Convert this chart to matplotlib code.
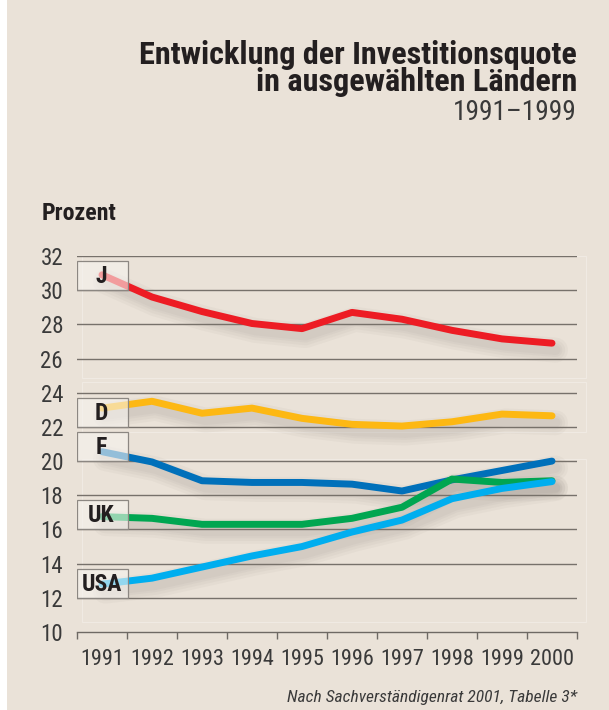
import matplotlib
matplotlib.use("Agg")
import matplotlib.pyplot as plt
import matplotlib.patheffects as pe
from matplotlib import font_manager as fm
from matplotlib.patches import Rectangle

# data (Investitionsquote in Prozent)
years = ["1991", "1992", "1993", "1994", "1995", "1996", "1997", "1998", "1999", "2000"]
japan = [30.9, 29.6, 28.75, 28.05, 27.75, 28.7, 28.3, 27.65, 27.15, 26.9]
germany = [23.1, 23.5, 22.8, 23.1, 22.5, 22.15, 22.05, 22.3, 22.75, 22.65]
france = [20.55, 19.95, 18.85, 18.75, 18.75, 18.65, 18.25, 18.9, 19.45, 20.0]
uk = [16.75, 16.65, 16.3, 16.3, 16.3, 16.65, 17.3, 18.95, 18.75, 18.85]
usa = [12.8, 13.15, 13.8, 14.45, 15.0, 15.85, 16.55, 17.8, 18.4, 18.8]

labels = ["J", "D", "F", "UK", "USA"]
series = [japan, germany, france, uk, usa]
colors = ["#ED1C24", "#FDB813", "#0070BA", "#00A651", "#00AEEF"]
box_bottom = [30, 22, 20, 16, 12]

bg = "#EAE2D8"
txt = "#231F20"
grey = "#3A3A3A"


# look for a condensed sans on the machine, the original uses a condensed face
def weight_num(w):
    if isinstance(w, str):
        return fm.weight_dict.get(w, 400)
    return w


def pick_font(bold=False, italic=False):
    prefs = ["Liberation Sans Narrow", "Roboto Condensed", "Open Sans Condensed",
             "Noto Sans Condensed", "DejaVu Sans Condensed", "DejaVu Sans"]
    want_w = 700 if bold else 400
    for name in prefs:
        cands = []
        for f in fm.fontManager.ttflist:
            if f.name != name:
                continue
            if name == "DejaVu Sans" and "condensed" not in str(f.stretch):
                continue
            if (f.style != "normal") != italic:
                continue
            cands.append(f)
        if cands:
            best = min(cands, key=lambda f: abs(weight_num(f.weight) - want_w))
            return fm.FontProperties(fname=best.fname)
    return fm.FontProperties(family="Liberation Sans", weight="bold" if bold else "normal",
                             style="italic" if italic else "normal")


f_reg = pick_font()
f_bold = pick_font(bold=True)
f_ital = pick_font(italic=True)


def fp(base, size):
    p = base.copy()
    p.set_size(size)
    return p


fig = plt.figure(figsize=(6.09, 7.10), dpi=100, facecolor=bg)
fig.patches.append(Rectangle((0, 0), 7 / 609, 1, transform=fig.transFigure,
                             facecolor="white", edgecolor="none", zorder=0))
ax = fig.add_axes([77 / 609, 1 - 632 / 710, 500 / 609, 376 / 710])
ax.set_facecolor(bg)

x = list(range(len(years)))
ax.set_xlim(-0.5, len(years) - 0.5)
ax.set_ylim(10, 32)

# faint panel frames
for y0, y1 in [(24.85, 32.0), (21.7, 24.6), (10.6, 20.1)]:
    ax.add_patch(Rectangle((-0.4, y0), 10.08, y1 - y0, facecolor="none",
                           edgecolor="#F0EAE3", lw=0.8, clip_on=False, zorder=0.5))

for v in range(12, 33, 2):
    ax.axhline(v, color="#77716B", lw=1.0, zorder=1)

shadow = [pe.SimpleLineShadow(offset=(2.5, -5), shadow_color="#7A716A", alpha=0.05, linewidth=w)
          for w in (18, 14, 10, 7)] + [pe.Normal()]
for vals, c in zip(series, colors):
    ax.plot(x, vals, color=c, lw=5, solid_capstyle="round", solid_joinstyle="round",
            zorder=3, path_effects=shadow)

for lab, b in zip(labels, box_bottom):
    ax.add_patch(Rectangle((-0.5, b), 1.02, 1.7, facecolor="#F6F3EF", alpha=0.6,
                           edgecolor="none", zorder=4))
    ax.add_patch(Rectangle((-0.5, b), 1.02, 1.7, facecolor="none",
                           edgecolor="#8C8782", lw=0.9, zorder=4.5))
    ax.text(-0.01, b + 0.8, lab, ha="center", va="center", fontproperties=fp(f_bold, 17),
            color=txt, zorder=5)

for s in ["top", "right", "left"]:
    ax.spines[s].set_visible(False)
ax.spines["bottom"].set_color("#6E6964")
ax.spines["bottom"].set_linewidth(1.0)

ax.set_yticks(range(10, 33, 2))
ax.set_yticklabels([str(v) for v in range(10, 33, 2)])
ax.tick_params(axis="y", length=0, pad=10, labelcolor=grey)
ax.set_xticks(x)
ax.set_xticklabels(years)
ax.set_xticks([i - 0.5 for i in range(len(years) + 1)], minor=True)
ax.tick_params(axis="x", which="major", length=0, pad=12, labelcolor=grey)
ax.tick_params(axis="x", which="minor", length=5, width=1.0, color="#6E6964", direction="out")
for t in ax.get_xticklabels():
    t.set_fontproperties(fp(f_reg, 16))
for t in ax.get_yticklabels():
    t.set_fontproperties(fp(f_reg, 16.5))

fig.text(577 / 609, 1 - 64 / 710, "Entwicklung der Investitionsquote", ha="right", va="baseline",
         fontproperties=fp(f_bold, 23.2), color=txt)
fig.text(577 / 609, 1 - 91 / 710, "in ausgewählten Ländern", ha="right", va="baseline",
         fontproperties=fp(f_bold, 23.2), color=txt)
fig.text(577 / 609, 1 - 120 / 710, "1991\u20131999", ha="right", va="baseline",
         fontproperties=fp(f_reg, 19.8), color=grey)
fig.text(42 / 609, 1 - 220 / 710, "Prozent", ha="left", va="baseline",
         fontproperties=fp(f_bold, 17.2), color=txt)
fig.text(577 / 609, 1 - 702 / 710, "Nach Sachverständigenrat 2001, Tabelle 3*", ha="right",
         va="baseline", fontproperties=fp(f_ital, 12.6), color=grey)

fig.savefig("out.png", dpi=100, facecolor=bg)
